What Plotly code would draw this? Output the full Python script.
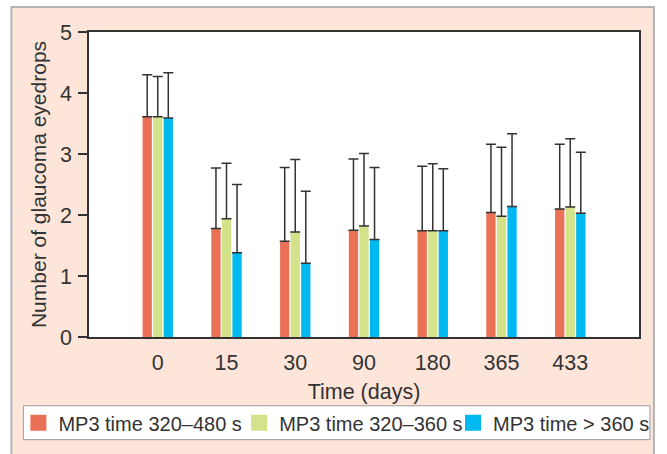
import plotly.graph_objects as go

days = ["0", "15", "30", "90", "180", "365", "433"]
series_names = ["MP3 time 320–480 s", "MP3 time 320–360 s", "MP3 time > 360 s"]
mean_a = [3.61, 1.78, 1.57, 1.75, 1.74, 2.04, 2.10]
mean_b = [3.61, 1.94, 1.72, 1.82, 1.74, 1.98, 2.13]
mean_c = [3.59, 1.38, 1.21, 1.60, 1.74, 2.14, 2.03]
top_a = [4.30, 2.77, 2.78, 2.92, 2.80, 3.16, 3.16]
top_b = [4.27, 2.85, 2.91, 3.01, 2.84, 3.11, 3.25]
top_c = [4.33, 2.50, 2.39, 2.78, 2.76, 3.33, 3.03]
colors = ["#ea7056", "#d4e28a", "#00b9f0"]

means = [mean_a, mean_b, mean_c]
tops = [top_a, top_b, top_c]
legend_ids = ["legend", "legend2", "legend3"]

FONT = "Liberation Sans, Arial, sans-serif"
TXT = "#333333"

fig = go.Figure()
for name, m, t, c, lg in zip(series_names, means, tops, colors, legend_ids):
    fig.add_trace(go.Bar(
        x=days, y=m, name=name, legend=lg, showlegend=False,
        legendgroup=name,
        marker=dict(color=c, line=dict(width=0)),
        error_y=dict(type="data", symmetric=False,
                     array=[ti - mi for ti, mi in zip(t, m)],
                     arrayminus=[0] * len(m),
                     color="#333333", thickness=1.5, width=5),
    ))
# legend-only entries with larger square swatches
for name, c, lg in zip(series_names, colors, legend_ids):
    fig.add_trace(go.Scatter(
        x=[None], y=[None], mode="markers", name=name, legend=lg,
        legendgroup=name, showlegend=True, hoverinfo="skip",
        marker=dict(symbol="square", size=16, color=c, line=dict(width=0)),
    ))

L, R, T, B = 89, 642, 32, 338
W, H = 667, 454
pw, ph = R - L, B - T

def px(x):
    return (x - L) / pw

def py(y):
    return (B - y) / ph

def leg(xpix):
    return dict(
        orientation="h",
        x=px(xpix), y=py(424), xanchor="left", yanchor="middle",
        bgcolor="rgba(0,0,0,0)", borderwidth=0,
        font=dict(family=FONT, size=20, color=TXT),
    )

fig.update_layout(
    width=W, height=H,
    margin=dict(l=L, r=W - R, t=T, b=H - B, pad=0),
    paper_bgcolor="white",
    plot_bgcolor="white",
    barmode="group",
    bargap=0.54,
    bargroupgap=0.12,
    font=dict(family=FONT, size=20, color=TXT),
    showlegend=True,
    legend=leg(18),
    legend2=leg(240),
    legend3=leg(455),
    shapes=[
        dict(type="rect", xref="paper", yref="paper", layer="below",
             x0=px(11), x1=px(657), y0=py(470), y1=py(7),
             fillcolor="#fde5da", line=dict(color="#b3b3b3", width=2)),
        dict(type="rect", xref="paper", yref="paper", layer="below",
             x0=0, x1=1, y0=0, y1=1,
             fillcolor="white", line=dict(width=0)),
        dict(type="rect", xref="paper", yref="paper", layer="below",
             x0=px(23), x1=px(653), y0=py(441), y1=py(407),
             fillcolor="white", line=dict(color="#9a9a9a", width=1)),
    ],
)

fig.update_xaxes(
    type="category", range=[-1, 7],
    showline=True, mirror=True, linecolor="#333333", linewidth=1.5,
    ticks="", ticklabelstandoff=5,
    showgrid=False, zeroline=False,
    tickfont=dict(family=FONT, size=21.5, color=TXT),
    title=dict(text="Time (days)", standoff=10,
               font=dict(family=FONT, size=21.5, color=TXT)),
)
fig.update_yaxes(
    range=[0, 5], dtick=1, tick0=0,
    showline=True, mirror=True, linecolor="#333333", linewidth=1.5,
    ticks="outside", ticklen=9, tickcolor="#333333", tickwidth=1.5,
    ticklabelstandoff=2,
    showgrid=False, zeroline=False,
    tickfont=dict(family=FONT, size=21.5, color=TXT),
    title=dict(text="Number of glaucoma eyedrops", standoff=8,
               font=dict(family=FONT, size=21, color=TXT)),
)

fig.write_html(
    "out.html",
    config={"displayModeBar": False},
    post_script="document.body.style.margin='0';document.body.style.padding='0';"
                "document.documentElement.style.margin='0';",
)
